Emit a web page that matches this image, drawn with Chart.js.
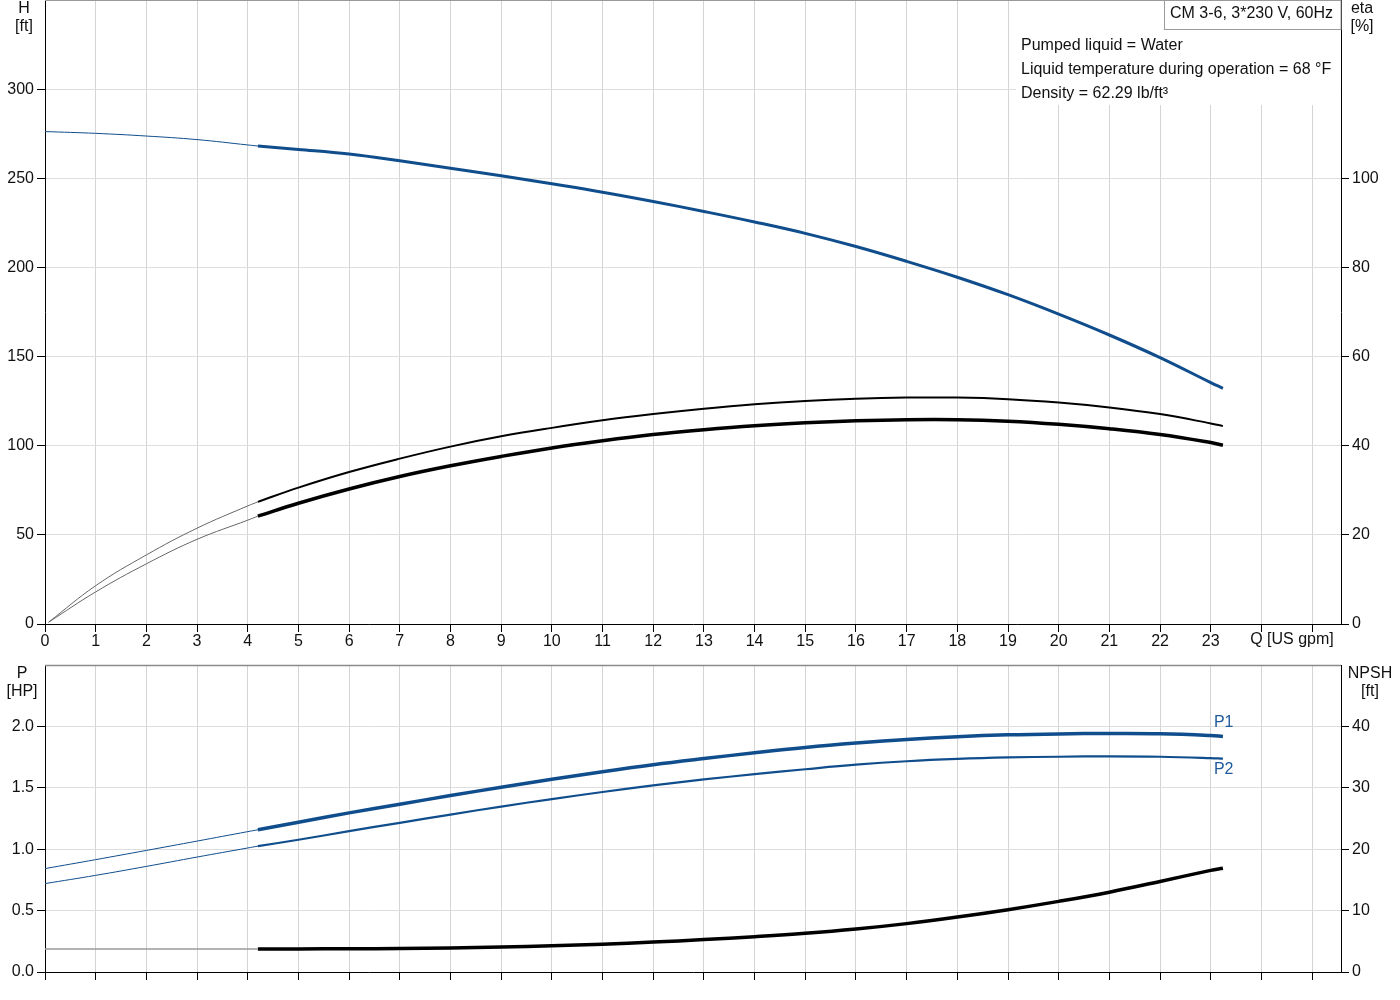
<!DOCTYPE html>
<html>
<head>
<meta charset="utf-8">
<title>CM 3-6 pump curves</title>
<script src="https://cdn.jsdelivr.net/npm/chart.js@4.4.1/dist/chart.umd.min.js"></script>
<style>
  html, body { margin: 0; padding: 0; background: #fff; }
  #wrap { position: relative; width: 1400px; height: 1000px; overflow: hidden; }
  #top, #bottom { position: absolute; left: 0; }
  #top { top: 0; }
  #bottom { top: 652px; }
</style>
</head>
<body>
<div id="wrap">
  <canvas id="top" width="1400" height="652"></canvas>
  <canvas id="bottom" width="1400" height="348"></canvas>
</div>
<script>
/* Pump performance curves: H + eta on top, P1/P2 + NPSH below.
 * Values; thin parts are the extension
 * below the recommended operating range (Q < 4.2 US gpm). */

const FONT = '"Liberation Sans", Arial, Helvetica, sans-serif';
const FONT_SIZE = 16;
const BLUE = "#104d8c";
const TEXT = "#111";
const GRID_V = "#d4d4d4";
const GRID_H = "#dedede";

// x axis (flow, US gpm)
const Q_MIN = 0;
const Q_MAX = 25.57;
const Q_TICKS = [0, 1, 2, 3, 4, 5, 6, 7, 8, 9, 10, 11, 12, 13, 14, 15, 16, 17, 18, 19, 20, 21, 22, 23, 24, 25];
const Q_TICK_LABELS = ["0", "1", "2", "3", "4", "5", "6", "7", "8", "9", "10", "11", "12", "13", "14", "15", "16", "17", "18", "19", "20", "21", "22", "23", "", ""];

// y axes
const H_TICKS = [0, 50, 100, 150, 200, 250, 300];
const ETA_TICKS = [0, 20, 40, 60, 80, 100];
const P_TICKS = [0, 0.5, 1, 1.5, 2];
const P_TICK_LABELS = ["0.0", "0.5", "1.0", "1.5", "2.0"];
const NPSH_TICKS = [0, 10, 20, 30, 40];

// flow points
const Q_EXT = [0, 1, 2, 3, 4, 4.2];
const Q_ETA_EXT = [0.07, 1, 2, 3, 4, 4.2];
const Q_MAIN = [4.2, 5, 6, 7, 8, 9, 10, 11, 12, 13, 14, 15, 16, 17, 18, 19, 20, 21, 22, 23, 23.24];

// head [ft]
const H_EXT = [276.2, 275.2, 273.7, 271.7, 268.7, 268.1];
const H_MAIN = [268.1, 266.2, 263.6, 259.8, 255.6, 251.4, 246.9, 242.2, 237.0, 231.4, 225.5, 219.1, 211.7, 203.4, 194.5, 184.7, 173.8, 162.1, 149.4, 135.4, 132.2];

// efficiencies [%]
const ETA_A_EXT = [0.4, 8.6, 15.5, 21.5, 26.5, 27.4];
const ETA_A_MAIN = [27.4, 30.6, 34.1, 37.1, 39.8, 42.1, 44.0, 45.7, 47.1, 48.3, 49.3, 50.05, 50.55, 50.8, 50.8, 50.45, 49.7, 48.6, 47.1, 45.0, 44.4];
const ETA_B_EXT = [0.4, 7.2, 13.5, 19.0, 23.3, 24.2];
const ETA_B_MAIN = [24.2, 27.1, 30.3, 33.1, 35.5, 37.6, 39.5, 41.1, 42.5, 43.6, 44.5, 45.15, 45.6, 45.85, 45.85, 45.5, 44.8, 43.8, 42.5, 40.7, 40.1];

// power [HP]
const P1_EXT = [0.842, 0.915, 0.990, 1.066, 1.143, 1.158];
const P1_MAIN = [1.158, 1.220, 1.296, 1.366, 1.437, 1.504, 1.569, 1.631, 1.688, 1.738, 1.785, 1.828, 1.864, 1.894, 1.916, 1.931, 1.939, 1.942, 1.940, 1.926, 1.918];
const P2_EXT = [0.720, 0.787, 0.860, 0.936, 1.010, 1.025];
const P2_MAIN = [1.025, 1.077, 1.147, 1.215, 1.282, 1.347, 1.408, 1.466, 1.520, 1.568, 1.611, 1.651, 1.688, 1.716, 1.735, 1.747, 1.753, 1.756, 1.753, 1.742, 1.737];

// NPSH [ft]
const NPSH_EXT = [3.75, 3.75, 3.75, 3.75, 3.75, 3.75];
const NPSH_MAIN = [3.75, 3.76, 3.78, 3.83, 3.92, 4.06, 4.26, 4.53, 4.87, 5.28, 5.75, 6.30, 7.00, 7.88, 8.95, 10.15, 11.5, 13.0, 14.75, 16.55, 16.9];

const INFO_LINES = ["Pumped liquid = Water", "Liquid temperature during operation = 68 °F", "Density = 62.29 lb/ft³"];
const TITLE = "CM 3-6, 3*230 V, 60Hz";

function pts(xs, ys) { return xs.map((x, i) => ({ x, y: ys[i] })); }

function curve(xs, ys, color, width, axis) {
  return {
    data: pts(xs, ys), yAxisID: axis,
    borderColor: color, borderWidth: width,
    pointRadius: 0, fill: false,
    tension: 0.4, borderCapStyle: "butt",
  };
}

function fixTicks(values) {
  return (s) => { s.ticks = values.map((v) => ({ value: v })); };
}

function noPad(size, dim) {
  return (s) => {
    s[dim] = size;
    s.paddingTop = 0; s.paddingBottom = 0; s.paddingLeft = 0; s.paddingRight = 0;
  };
}

function xScale(height, labels) {
  return {
    type: "linear", min: Q_MIN, max: Q_MAX,
    afterBuildTicks: fixTicks(Q_TICKS),
    afterFit: noPad(height, "height"),
    grid: { color: GRID_V, tickColor: "#000", tickLength: 8 },
    border: { color: "#000", width: 1 },
    ticks: {
      color: TEXT, padding: 0, maxRotation: 0, autoSkip: false,
      font: { family: FONT, size: FONT_SIZE },
      callback: (v, i) => (labels ? labels[i] : ""),
    },
  };
}

function yScale(pos, min, max, values, labels, width, grid) {
  return {
    type: "linear", position: pos, min, max,
    afterBuildTicks: fixTicks(values),
    afterFit: noPad(width, "width"),
    grid: { color: GRID_H, drawOnChartArea: grid, tickColor: "#000", tickLength: 8 },
    border: { color: "#000", width: 1 },
    ticks: {
      color: TEXT, padding: 3, autoSkip: false,
      font: { family: FONT, size: FONT_SIZE },
      callback: (v, i) => (labels ? labels[i] : String(v)),
    },
  };
}

function text(ctx, str, x, y, align, color) {
  ctx.save();
  ctx.font = FONT_SIZE + "px " + FONT;
  ctx.fillStyle = color || TEXT;
  ctx.textAlign = align || "center";
  ctx.textBaseline = "middle";
  ctx.fillText(str, x, y + 1.5);
  ctx.restore();
}

const topDecor = {
  id: "topDecor",
  beforeDatasetsDraw(chart) {
    const ctx = chart.ctx;
    const a = chart.chartArea;
    ctx.save();
    ctx.fillStyle = "#fff";
    ctx.fillRect(1016, a.top, a.right - 1016 - 0.5, 105);
    ctx.restore();
  },
  afterDraw(chart) {
    const ctx = chart.ctx;
    const a = chart.chartArea;
    ctx.save();
    ctx.strokeStyle = "#9a9a9a";
    ctx.lineWidth = 1;
    ctx.beginPath();
    ctx.moveTo(a.left, a.top + 0.5);
    ctx.lineTo(a.right, a.top + 0.5);
    ctx.stroke();
    // title box
    ctx.fillStyle = "#fff";
    ctx.fillRect(1164.5, 0.5, a.right - 1164.5, 29);
    ctx.strokeRect(1164.5, 0.5, a.right - 1164.5, 29);
    ctx.restore();
    text(ctx, TITLE, 1170, 12, "left");
    INFO_LINES.forEach((s, i) => text(ctx, s, 1021, 44 + i * 24, "left"));
    text(ctx, "H", 24, 7);
    text(ctx, "[ft]", 24, 25);
    text(ctx, "eta", 1362, 7);
    text(ctx, "[%]", 1362, 25);
    text(ctx, "Q [US gpm]", 1292, chart.scales.x.top + 14);
  },
};

const bottomDecor = {
  id: "bottomDecor",
  afterDraw(chart) {
    const ctx = chart.ctx;
    const a = chart.chartArea;
    ctx.save();
    ctx.strokeStyle = "#8c8c8c";
    ctx.lineWidth = 1.5;
    ctx.beginPath();
    ctx.moveTo(a.left, a.top + 0.5);
    ctx.lineTo(a.right, a.top + 0.5);
    ctx.stroke();
    ctx.restore();
    const x = chart.scales.x, y = chart.scales.y;
    const xe = x.getPixelForValue(Q_MAIN[Q_MAIN.length - 1]);
    text(ctx, "P1", xe - 9, y.getPixelForValue(P1_MAIN[P1_MAIN.length - 1]) - 15, "left", "#1f5a9c");
    text(ctx, "P2", xe - 9, y.getPixelForValue(P2_MAIN[P2_MAIN.length - 1]) + 9, "left", "#1f5a9c");
    text(ctx, "P", 22, 20);
    text(ctx, "[HP]", 22, 38);
    text(ctx, "NPSH", 1370, 20);
    text(ctx, "[ft]", 1370, 38);
  },
};

const common = {
  responsive: false,
  animation: false,
  devicePixelRatio: 1,
  plugins: { legend: { display: false }, tooltip: { enabled: false } },
  events: [],
};

new Chart(document.getElementById("top"), {
  type: "line",
  data: {
    datasets: [
      curve(Q_EXT, H_EXT, BLUE, 1, "y"),
      curve(Q_MAIN, H_MAIN, BLUE, 3, "y"),
      curve(Q_ETA_EXT, ETA_A_EXT, "#666", 1, "eta"),
      curve(Q_MAIN, ETA_A_MAIN, "#000", 2, "eta"),
      curve(Q_ETA_EXT, ETA_B_EXT, "#666", 1, "eta"),
      curve(Q_MAIN, ETA_B_MAIN, "#000", 3.5, "eta"),
    ],
  },
  options: Object.assign({}, common, {
    layout: { padding: { top: 0, left: 0, right: 0, bottom: 0 } },
    scales: {
      x: xScale(28, Q_TICK_LABELS),
      y: yScale("left", 0, 350, H_TICKS, null, 45, true),
      eta: yScale("right", 0, 140, ETA_TICKS, null, 59, false),
    },
  }),
  plugins: [topDecor],
});

new Chart(document.getElementById("bottom"), {
  type: "line",
  data: {
    datasets: [
      curve(Q_EXT, P1_EXT, BLUE, 1, "y"),
      curve(Q_MAIN, P1_MAIN, BLUE, 3.5, "y"),
      curve(Q_EXT, P2_EXT, BLUE, 1, "y"),
      curve(Q_MAIN, P2_MAIN, BLUE, 2.2, "y"),
      curve(Q_EXT, NPSH_EXT, "#9a9a9a", 1.5, "npsh"),
      curve(Q_MAIN, NPSH_MAIN, "#000", 3.5, "npsh"),
    ],
  },
  options: Object.assign({}, common, {
    layout: { padding: { top: 13, left: 0, right: 0, bottom: 0 } },
    scales: {
      x: xScale(28, null),
      y: yScale("left", 0, 2.5, P_TICKS, P_TICK_LABELS, 45, true),
      npsh: yScale("right", 0, 50, NPSH_TICKS, null, 59, false),
    },
  }),
  plugins: [bottomDecor],
});
</script>
</body>
</html>
